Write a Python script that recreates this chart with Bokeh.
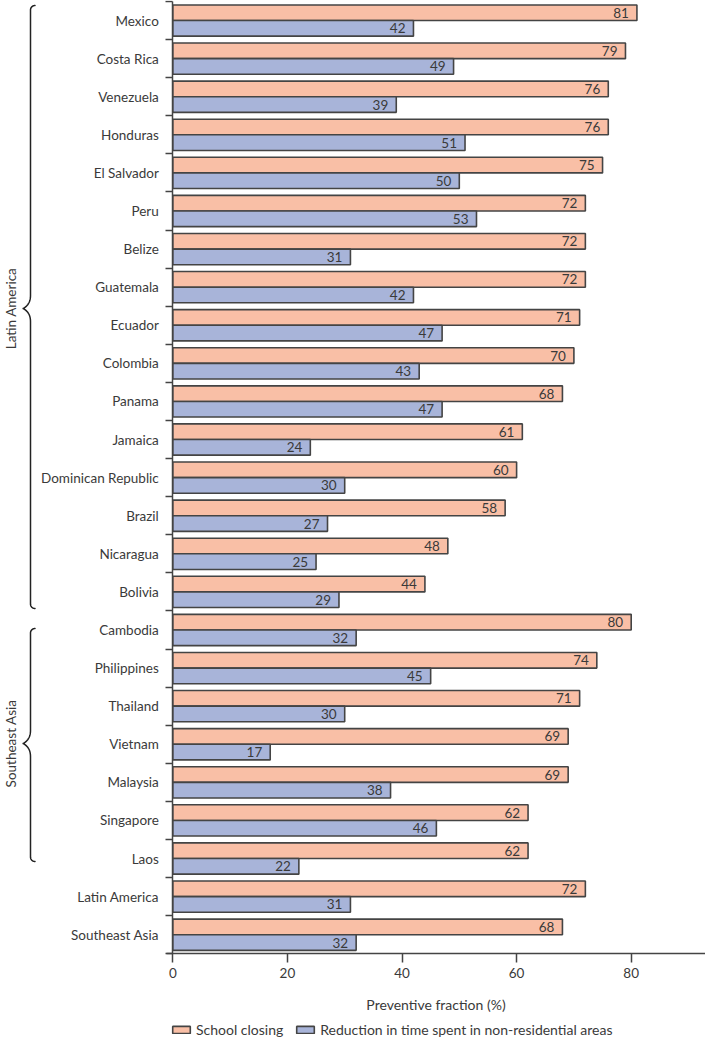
import numpy as np
from bokeh.plotting import figure
from bokeh.models import Range1d, FixedTicker, ColumnDataSource, Label, Legend, LegendItem
from bokeh.core.properties import value
from bokeh.embed import file_html
from bokeh.resources import INLINE

countries = ["Mexico", "Costa Rica", "Venezuela", "Honduras", "El Salvador", "Peru",
             "Belize", "Guatemala", "Ecuador", "Colombia", "Panama", "Jamaica",
             "Dominican Republic", "Brazil", "Nicaragua", "Bolivia", "Cambodia",
             "Philippines", "Thailand", "Vietnam", "Malaysia", "Singapore", "Laos",
             "Latin America", "Southeast Asia"]
school_closing = [81, 79, 76, 76, 75, 72, 72, 72, 71, 70, 68, 61, 60, 58, 48, 44,
                  80, 74, 71, 69, 69, 62, 62, 72, 68]
reduction = [42, 49, 39, 51, 50, 53, 31, 42, 47, 43, 47, 24, 30, 27, 25, 29,
             32, 45, 30, 17, 38, 46, 22, 31, 32]
x_ticks = [0, 20, 40, 60, 80]
region_names = ["Latin America", "Southeast Asia"]
series_names = ["School closing", "Reduction in time spent in non-residential areas"]

FONT = "Lato"
TXT = "#3a3a3a"
AX = "#444444"
ORANGE = "#F9BFA6"
BLUE = "#A8B4D9"

# pixel <-> data helpers (pixel coordinates of the reference picture)
X0, SX = 172.3, 5.73
Y0, SY = 20.05, 38.09
def px_x(px):
    return (px - X0) / SX
def px_y(py):
    return (py - Y0) / SY

W, H = 705, 1040
n = len(countries)
idx = np.arange(n)
off = 0.205
bh = 0.41

src = ColumnDataSource(dict(
    y_o=idx - off, y_b=idx + off,
    sc=school_closing, rd=reduction,
    sc_t=[str(v) for v in school_closing], rd_t=[str(v) for v in reduction],
))

p = figure(width=W, height=H, output_backend="svg", toolbar_location=None,
           x_range=Range1d(px_x(0), px_x(W)),
           y_range=Range1d(px_y(H), px_y(0)),
           min_border=0, min_border_left=0, min_border_right=0,
           min_border_top=0, min_border_bottom=0)
p.outline_line_color = None
p.xgrid.visible = False
p.ygrid.visible = False
p.background_fill_color = "white"
p.border_fill_color = "white"

r1 = p.hbar(y="y_o", right="sc", left=0, height=bh, source=src,
            fill_color=ORANGE, line_color=AX, line_width=1.6)
r2 = p.hbar(y="y_b", right="rd", left=0, height=bh, source=src,
            fill_color=BLUE, line_color=AX, line_width=1.6)

for ycol, xcol, tcol in [("y_o", "sc", "sc_t"), ("y_b", "rd", "rd_t")]:
    p.text(x=xcol, y=ycol, text=tcol, source=src, x_offset=-8,
           text_align="right", text_baseline="middle",
           text_font=value(FONT), text_font_size="13.5px", text_color=TXT)

# y axis
ya = p.yaxis[0]
ya.fixed_location = 0
ya.bounds = (-0.5, n - 0.5)
ya.ticker = FixedTicker(ticks=list(range(n)), minor_ticks=[k - 0.5 for k in range(n + 1)])
ya.major_label_overrides = {i: c for i, c in enumerate(countries)}
ya.major_tick_out = 0
ya.major_tick_in = 0
ya.minor_tick_out = 7
ya.minor_tick_in = 0
ya.minor_tick_line_color = AX
ya.minor_tick_line_width = 1.5
ya.axis_line_color = AX
ya.axis_line_width = 1.5
ya.major_label_standoff = 7
ya.major_label_text_font = FONT
ya.major_label_text_font_size = "13.5px"
ya.major_label_text_color = TXT

# x axis
xa = p.xaxis[0]
xa.fixed_location = n - 0.5
xa.bounds = (px_x(166), px_x(W))
xa.ticker = FixedTicker(ticks=x_ticks, minor_ticks=[])
xa.major_tick_out = 9
xa.major_tick_in = 0
xa.major_tick_line_color = AX
xa.major_tick_line_width = 1.5
xa.axis_line_color = AX
xa.axis_line_width = 1.5
xa.major_label_standoff = 5
xa.major_label_text_font = FONT
xa.major_label_text_font_size = "13.5px"
xa.major_label_text_color = TXT

p.add_layout(Label(x=(px_x(166) + px_x(W)) / 2, y=px_y(1004), text="Preventive fraction (%)",
                   text_align="center", text_baseline="middle", text_font=FONT,
                   text_font_size="14px", text_color=TXT))

# braces
def brace(top, bottom, tip, x_line=30.0, x_tip=22.7, r=4.5, h=13.0, m=14):
    xs, ys = [], []
    th = np.linspace(-np.pi / 2, -np.pi, m)
    cx, cy = x_line + r, top + r
    xs += list(cx + r * np.cos(th)); ys += list(cy + r * np.sin(th))
    t = np.linspace(0, 1, m)
    p0 = (x_line, tip - h); c = (x_line, tip - 4); p2 = (x_tip, tip)
    xs += list((1 - t) ** 2 * p0[0] + 2 * (1 - t) * t * c[0] + t ** 2 * p2[0])
    ys += list((1 - t) ** 2 * p0[1] + 2 * (1 - t) * t * c[1] + t ** 2 * p2[1])
    p0 = (x_tip, tip); c = (x_line, tip + 4); p2 = (x_line, tip + h)
    xs += list((1 - t) ** 2 * p0[0] + 2 * (1 - t) * t * c[0] + t ** 2 * p2[0])
    ys += list((1 - t) ** 2 * p0[1] + 2 * (1 - t) * t * c[1] + t ** 2 * p2[1])
    th = np.linspace(np.pi, np.pi / 2, m)
    cx, cy = x_line + r, bottom - r
    xs += list(cx + r * np.cos(th)); ys += list(cy + r * np.sin(th))
    return [px_x(v) for v in xs], [px_y(v) for v in ys]

brace_spans = [(5, 608, 308), (628, 861, 743)]
for name, (top, bot, tip) in zip(region_names, brace_spans):
    bx, by = brace(top, bot, tip)
    p.line(bx, by, line_color="#222222", line_width=1.5, line_join="round", line_cap="round")
    p.text(x=[px_x(10.5)], y=[px_y(tip)], text=[name], angle=np.pi / 2,
           text_align="center", text_baseline="alphabetic",
           text_font=value(FONT), text_font_size="13.5px", text_color=TXT)

legend = Legend(items=[LegendItem(label=series_names[0], renderers=[r1]),
                       LegendItem(label=series_names[1], renderers=[r2])],
                orientation="horizontal", location=(170, 2), padding=0, margin=0,
                spacing=11, glyph_width=22, glyph_height=9, label_standoff=4,
                label_height=16, border_line_color=None, background_fill_alpha=0,
                label_text_font=FONT, label_text_font_size="14px", label_text_color=TXT)
p.add_layout(legend)

open("out.html", "w").write(file_html(p, INLINE))
